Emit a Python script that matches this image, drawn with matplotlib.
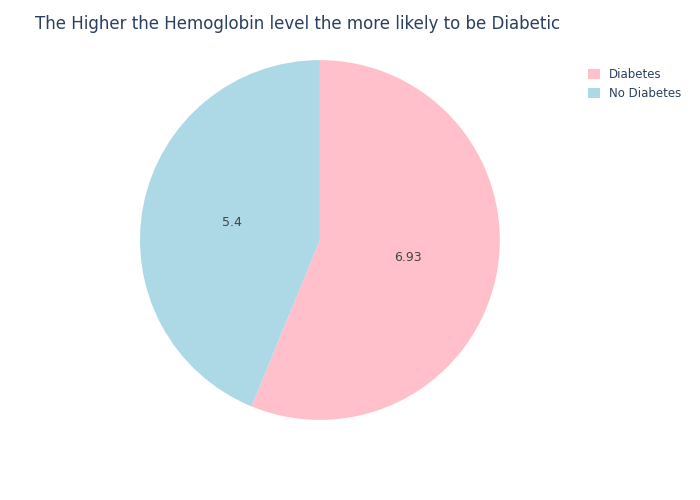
import matplotlib
matplotlib.use("Agg")
import matplotlib.pyplot as plt
from matplotlib.patches import Patch

labels = ["Diabetes", "No Diabetes"]
values = [6.93, 5.4]
colors = ["pink", "lightblue"]

fig = plt.figure(figsize=(7, 5), dpi=100)
ax = fig.add_axes([0.2, 0.16, 0.514, 0.72])

ax.pie(values, colors=colors, startangle=90, counterclock=False,
       autopct=lambda p: "%g" % round(p * sum(values) / 100, 2),
       pctdistance=0.5, textprops={"fontsize": 9, "color": "#444444"})
ax.set_xlim(-1, 1)
ax.set_ylim(-1, 1)
ax.set_aspect("equal")

fig.text(0.05, 0.952, "The Higher the Hemoglobin level the more likely to be Diabetic",
         fontsize=12, color="#2a3f5f", va="center")

handles = [Patch(facecolor=c, label=l) for c, l in zip(colors, labels)]
fig.legend(handles=handles, loc="upper left", bbox_to_anchor=(0.825, 0.885),
           frameon=False, fontsize=8.5, handlelength=1.0, handleheight=1.0,
           labelcolor="#2a3f5f")

fig.savefig("out.png", dpi=100)
